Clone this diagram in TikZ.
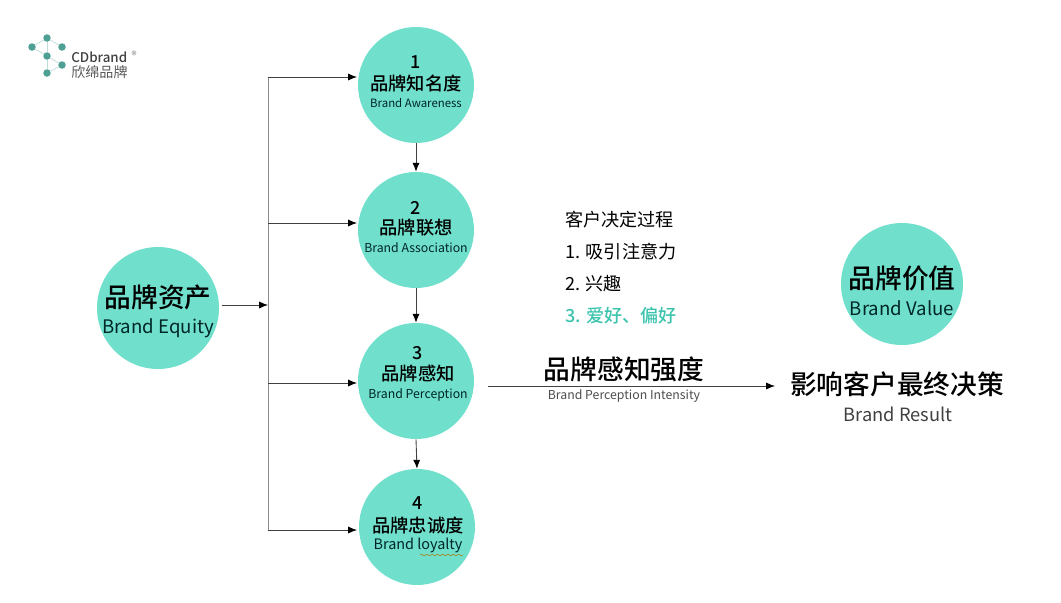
\documentclass[tikz,border=0pt]{standalone}
\usepackage{fontspec}
\setmainfont{Noto Sans CJK SC}
\newfontfamily\mediumfont{Noto Sans CJK SC Medium}
\usetikzlibrary{arrows.meta,decorations.pathmorphing}
\definecolor{circleteal}{HTML}{70E0CD}
\definecolor{logoteal}{HTML}{4E9F94}
\definecolor{textteal}{HTML}{3CC4AE}
\tikzset{
    bigcircle/.style={circle, fill=circleteal, draw=none, inner sep=0pt, minimum size=2.44cm},
    smallcircle/.style={circle, fill=circleteal, draw=none, inner sep=0pt, minimum size=2.32cm},
    label/.style={inner sep=0pt, align=center, text=black},
    busline/.style={draw=black!45, line width=0.5pt},
    arrowline/.style={draw=black!75, line width=0.5pt, -{Latex[length=5pt,width=4pt,black]}},
    logodot/.style={circle, fill=logoteal, inner sep=0pt, minimum size=0.15cm},
    logoline/.style={draw=logoteal!35, line width=0.4pt},
    num/.style={label, font=\fontsize{10.2}{12}\mediumfont},
    cn/.style={label, font=\fontsize{10.4}{12}\mediumfont},
    en/.style={label, text=black!70!teal},
    bigcn/.style={label, font=\fontsize{15.2}{18}\mediumfont},
    bigen/.style={label, text=black!70!teal, font=\fontsize{10.6}{13}\selectfont},
    listtext/.style={label, anchor=west, font=\fontsize{10.3}{12}\selectfont},
}
\begin{document}
\begin{tikzpicture}[x=0.02cm, y=-0.02cm]
    \useasboundingbox (0,0) rectangle (1061,602);

    % Circles
    \node[bigcircle] (equity) at (158,308) {};
    \node[bigcircle] (value) at (902,284) {};
    \foreach \name/\x/\y in {aware/416/85, assoc/416/230, percept/416/381, loyal/417/527} {
        \node[smallcircle] (\name) at (\x,\y) {};
    }

    % Circle texts
    \foreach \name/\x/\ynum/\ycn/\yen/\fs/\num/\cntext/\entext in {
        a/416/62/84/103/6.5/1/品牌知名度/Brand Awareness,
        b/416/208/228/248/7/2/品牌联想/Brand Association,
        c/418/353/374/395/7/3/品牌感知/Brand Perception,
        d/418/503/526/545/8.2/4/品牌忠诚度/Brand loyalty} {
        \node[num] (num\name) at (\x,\ynum) {\num};
        \node[cn] (cn\name) at (\x,\ycn) {\cntext};
        \node[en, font=\fontsize{\fs}{9}\selectfont] (en\name) at (\x,\yen) {\entext};
    }
    \node[bigcn] (equitycn) at (158,297) {品牌资产};
    \node[bigen] (equityen) at (158,328) {Brand Equity};
    \node[bigcn] (valuecn) at (902,278) {品牌价值};
    \node[bigen] (valueen) at (902,308) {Brand Value};

    % Squiggle under loyalty
    \draw[draw=olive!70!red, line width=0.3pt, decorate, decoration={snake, amplitude=0.5pt, segment length=3pt}]
        (420,555) -- (463,555);

    % Bus and branches
    \coordinate (bustop) at (268,77);
    \coordinate (busbot) at (268,530);
    \coordinate (busmid) at (268,305);
    \coordinate (equityout) at (222,305);
    \draw[busline] (bustop) -- (busbot);
    \draw[arrowline] (equityout) -- (busmid);
    \foreach \y/\target in {77/aware, 223/assoc, 383/percept, 530/loyal} {
        \coordinate (branch\target) at (268,\y);
        \coordinate (end\target) at (357,\y);
        \draw[arrowline] (branch\target) -- (end\target);
    }

    % Arrows between circles
    \draw[arrowline] (aware.south) -- (assoc.north);
    \draw[arrowline] (assoc.south) -- (percept.north);
    \draw[arrowline] (percept.south) -- (loyal.north);

    % Main arrow
    \coordinate (mainstart) at (488,386);
    \coordinate (mainend) at (775,386);
    \draw[arrowline] (mainstart) -- (mainend);
    \node[bigcn] (intensitycn) at (624,369) {品牌感知强度};
    \node[label, text=black!70, font=\fontsize{7}{9}\selectfont] (intensityen) at (624,396) {Brand Perception Intensity};
    \node[bigcn] (resultcn) at (897,384) {影响客户最终决策};
    \node[label, text=black!75, font=\fontsize{10.4}{12}\selectfont] (resulten) at (898,414) {Brand Result};

    % Decision list
    \node[listtext] (listhead) at (565,220) {客户决定过程};
    \node[listtext] (listone) at (565,252) {1. 吸引注意力};
    \node[listtext] (listtwo) at (565,284) {2. 兴趣};
    \node[listtext, text=textteal, font=\fontsize{10.3}{12}\mediumfont] (listthree) at (565,316) {3. 爱好、偏好};

    % Logo
    \foreach \name/\x/\y in {lt/47/38, ll/32/47, lr/62/47, lc/47/56, ls/62/65, lb/47/73} {
        \node[logodot] (\name) at (\x,\y) {};
    }
    \foreach \a/\b in {lt/ll, lt/lr, lt/lc, ll/lc, lc/ls, lc/lb, ls/lb} {
        \draw[logoline] (\a) -- (\b);
    }
    \node[label, anchor=west, text=black!75, font=\fontsize{7.6}{9}\mediumfont] (logoname) at (71,57) {CDbrand};
    \node[label, text=black!50, font=\fontsize{6}{7}\selectfont] (logomark) at (134,55) {®};
    \node[label, anchor=west, text=black!65, font=\fontsize{8}{9}\selectfont] (logocn) at (71,72) {欣绵品牌};
\end{tikzpicture}
\end{document}
